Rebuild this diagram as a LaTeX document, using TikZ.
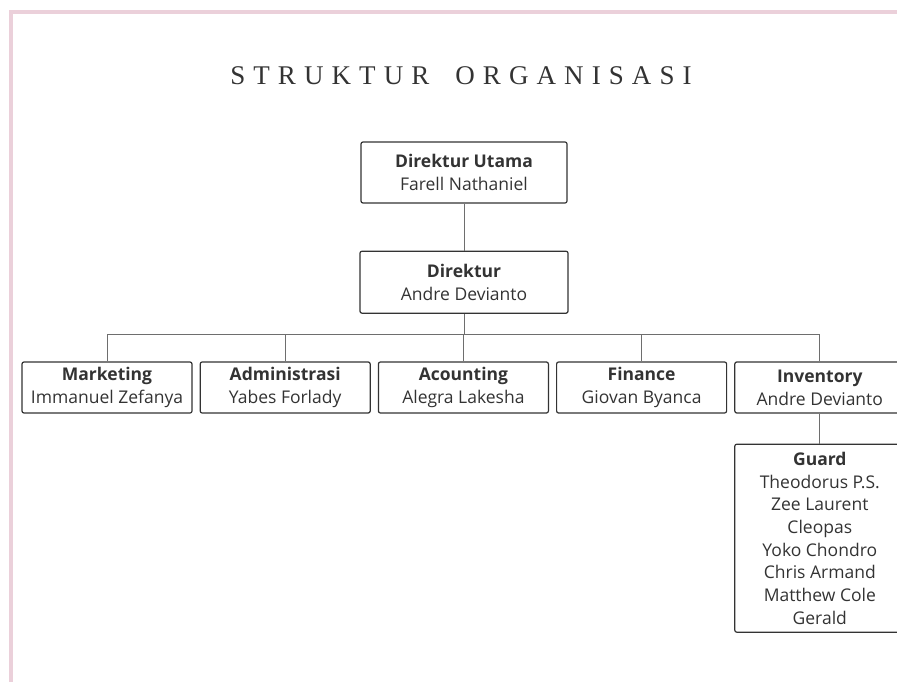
\documentclass[tikz,border=0pt]{standalone}
\usepackage{fontspec}
\setmainfont{Open Sans}
\newfontfamily\titlefont[LetterSpace=30]{Liberation Serif}
\usetikzlibrary{positioning}
\definecolor{framepink}{RGB}{235,208,218}
\definecolor{ink}{RGB}{51,51,51}
\definecolor{wire}{RGB}{110,110,110}

\begin{document}
\begin{tikzpicture}[x=1pt,y=1pt]
        % Styles
        \tikzstyle{post} = [draw=ink, line width=1.2pt, rounded corners=2pt, text=ink,
        align=center, inner sep=0pt, font=\fontsize{17.5}{23}\selectfont]
        \tikzstyle{unit} = [post, minimum width=170pt, minimum height=51pt]
        \tikzstyle{link} = [draw=wire, line width=0.9pt]

        % Canvas
        \useasboundingbox (0,0) rectangle (897,-682);
        \clip (0,0) rectangle (897,-682);
        \draw[framepink, line width=4pt] (11,-12) rectangle (920,-720);

        % Title
        \node (title) [anchor=base, text=ink, font=\titlefont\fontsize{27}{27}\selectfont]
            at (461,-85) {STRUKTUR\hspace{11pt} ORGANISASI};

        % Nodes
        \node (dirut)   [post, minimum width=206pt, minimum height=61pt] at (464,-172.5)
            {\textbf{Direktur Utama}\\Farell Nathaniel};
        \node (dir)     [post, minimum width=208pt, minimum height=62pt, below=47pt of dirut]
            {\textbf{Direktur}\\Andre Devianto};
        \node (mkt)     [unit] at (107,-387.5)          {\textbf{Marketing}\\Immanuel Zefanya};
        \node (adm)     [unit, right=7pt of mkt]        {\textbf{Administrasi}\\Yabes Forlady};
        \node (acc)     [unit, right=7pt of adm]        {\textbf{Acounting}\\Alegra Lakesha};
        \node (fin)     [unit, right=7pt of acc]        {\textbf{Finance}\\Giovan Byanca};
        \node (inv)     [unit, right=7pt of fin]        {\textbf{Inventory}\\Andre Devianto};
        \node (grd)     [post, minimum width=170pt, minimum height=188pt, below=30pt of inv,
            font=\fontsize{17.5}{22.7}\selectfont]
            {\textbf{Guard}\\Theodorus P.S.\\Zee Laurent\\Cleopas\\Yoko Chondro\\Chris Armand\\Matthew Cole\\Gerald};

        % Edges
        \coordinate (bus) at ([yshift=-21pt]dir.south);
        \draw[link] (dirut) -- (dir);
        \draw[link] (dir) -- (bus);
        \draw[link] (bus -| mkt.north) -- (bus -| inv.north);
        \foreach \n in {mkt,adm,acc,fin,inv}
            \draw[link] (bus -| \n.north) -- (\n);
        \draw[link] (inv) -- (grd);

    \end{tikzpicture}
\end{document}
